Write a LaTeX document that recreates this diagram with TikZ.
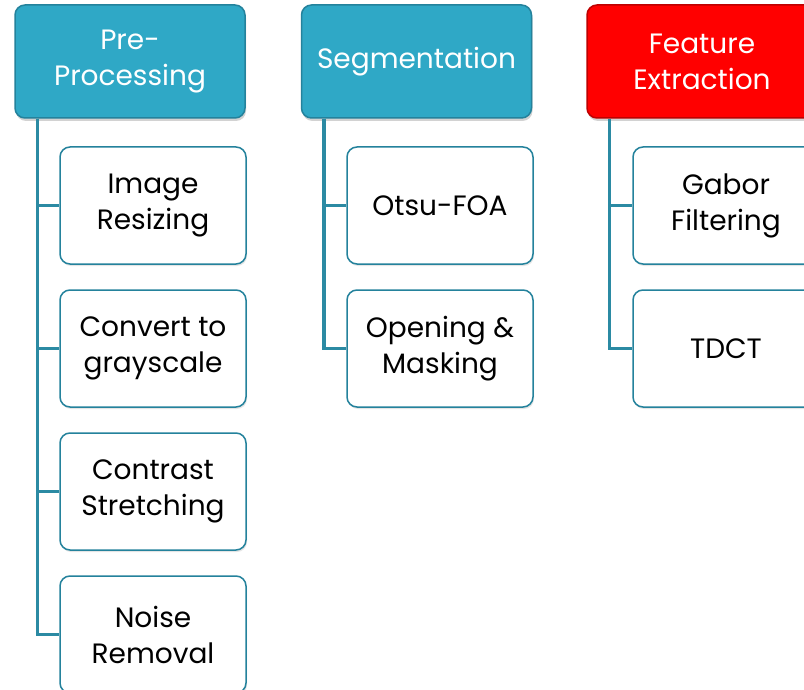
\documentclass[tikz,border=0pt]{standalone}
\usepackage{fontspec}
\setmainfont{Poppins}
\usetikzlibrary{positioning,shadows}
\definecolor{tealhead}{RGB}{47,168,198}
\definecolor{tealedge}{RGB}{36,130,156}
\definecolor{tealline}{RGB}{43,138,163}
\definecolor{redhead}{RGB}{255,0,0}
\definecolor{rededge}{RGB}{190,0,0}
\tikzset{
  stage/.style={rectangle, rounded corners=10pt, draw=tealedge, fill=tealhead, line width=1.5pt, minimum width=230pt, minimum height=113pt, inner sep=0pt, align=center, text=white, font=\fontsize{28}{36}\selectfont, drop shadow={opacity=0.35, shadow xshift=1pt, shadow yshift=-3pt}},
  hotstage/.style={stage, draw=rededge, fill=redhead},
  task/.style={rectangle, rounded corners=10pt, draw=tealedge, fill=white, line width=1.5pt, minimum width=186pt, minimum height=117pt, inner sep=0pt, align=center, text=black, font=\fontsize{28}{36}\selectfont, drop shadow={opacity=0.2, shadow xshift=1pt, shadow yshift=-2pt}},
  link/.style={draw=tealline, line width=3.5pt}
}
\begin{document}
\begin{tikzpicture}[x=1pt,y=-1pt]
  \useasboundingbox (0,0) rectangle (804,690);
  \clip (0,0) rectangle (804,690);
  \fill[white] (0,0) rectangle (804,690);
  % column heads
  \node[stage] (pre) at (130,61.5) {Pre-\\Processing};
  \node[stage] (seg) at (416.5,61.5) {Segmentation};
  \node[hotstage] (feat) at (702,61.5) {Feature\\Extraction};
  % pre-processing steps
  \node[task] (resize) at (153,205.5) {Image\\Resizing};
  \node[task] (gray) at (153,348.5) {Convert to\\grayscale};
  \node[task] (stretch) at (153,491.5) {Contrast\\Stretching};
  \node[task] (noise) at (153,634.5) {Noise\\Removal};
  % segmentation steps
  \node[task] (otsu) at (440,205.5) {Otsu-FOA};
  \node[task] (mask) at (440,348.5) {Opening \&\\Masking};
  % feature steps
  \node[task] (gabor) at (726,205.5) {Gabor\\Filtering};
  \node[task] (tdct) at (726,348.5) {TDCT};
  % tree lines
  \foreach \kid in {resize,gray,stretch,noise}
    \draw[link] ([xshift=23pt]pre.south west) |- (\kid.west);
  \foreach \kid in {otsu,mask}
    \draw[link] ([xshift=23pt]seg.south west) |- (\kid.west);
  \foreach \kid in {gabor,tdct}
    \draw[link] ([xshift=23pt]feat.south west) |- (\kid.west);
\end{tikzpicture}
\end{document}
